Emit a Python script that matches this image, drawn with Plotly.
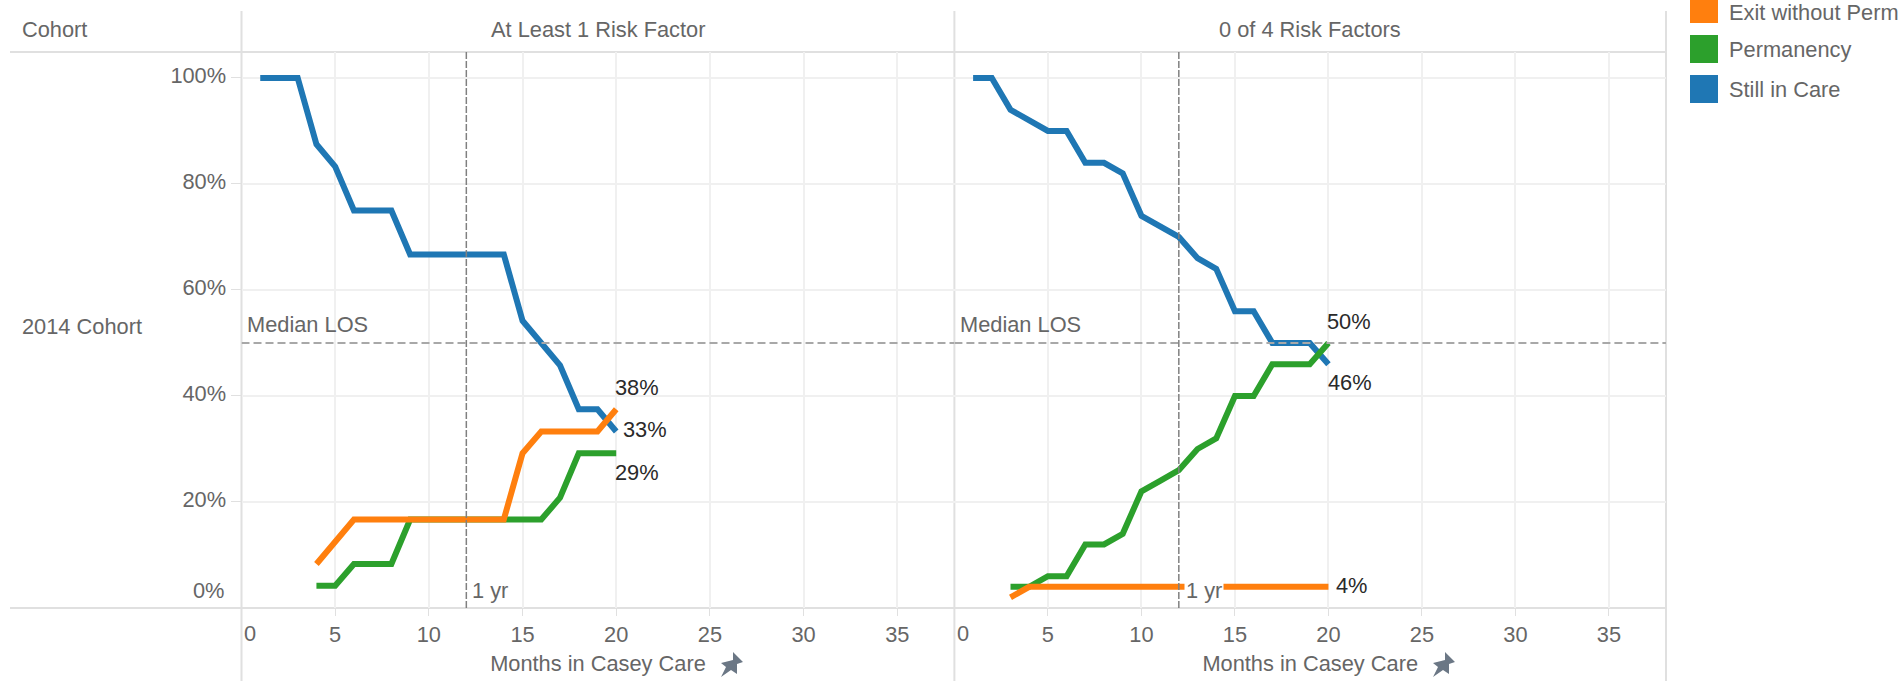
from __future__ import annotations

import plotly.graph_objects as go

W = 1903
H = 681

MONTHS = list(range(1, 21))

# At Least 1 Risk Factor
LEFT_STILL = [100, 100, 100, 87.5, 83.3, 75, 75, 75, 66.7, 66.7, 66.7, 66.7, 66.7, 66.7, 54.2, 50, 45.8, 37.5, 37.5, 33.3]
LEFT_PERM_MONTHS = list(range(4, 21))
LEFT_PERM = [4.2, 4.2, 8.3, 8.3, 8.3, 16.7, 16.7, 16.7, 16.7, 16.7, 16.7, 16.7, 16.7, 20.8, 29.2, 29.2, 29.2]
LEFT_EXIT = [8.3, 12.5, 16.7, 16.7, 16.7, 16.7, 16.7, 16.7, 16.7, 16.7, 16.7, 29.2, 33.3, 33.3, 33.3, 33.3, 37.5]

# 0 of 4 Risk Factors
RIGHT_STILL = [100, 100, 94, 92, 90, 90, 84, 84, 82, 74, 72, 70, 66, 64, 56, 56, 50, 50, 50, 46]
RIGHT_PERM_MONTHS = list(range(3, 21))
RIGHT_PERM = [4, 4, 6, 6, 12, 12, 14, 22, 24, 26, 30, 32, 40, 40, 46, 46, 46, 50]
RIGHT_EXIT = [2, 4, 4, 4, 4, 4, 4, 4, 4, 4, 4, 4, 4, 4, 4, 4, 4, 4]

X_TICKS = [5, 10, 15, 20, 25, 30, 35]
Y_TICKS = [20, 40, 60, 80, 100]
Y_LABELS = ["20%", "40%", "60%", "80%", "100%"]

BLUE = "#1f77b4"
GREEN = "#2ca02c"
ORANGE = "#ff7f0e"
TEXT = "#666666"
BORDER = "#e0e0e0"
GRID = "#f0f0f0"
FONT = "Liberation Sans"
SIZE = 21.8

# pane edges in pixels
PANE_X = [241.5, 954.4, 1666]
PANE_TOP = 52
PANE_BOTTOM = 608


def px(x: float) -> float:
    return x / W


def py(y: float) -> float:
    return 1 - y / H


def add_line(fig, x, y, color, col, name):
    axis = "" if col == 1 else "2"
    fig.add_trace(
        go.Scatter(
            x=x,
            y=y,
            mode="lines",
            name=name,
            xaxis=f"x{axis}",
            yaxis=f"y{axis}",
            line=dict(color=color, width=6),
            hovertemplate="%{x}: %{y}%<extra>" + name + "</extra>",
        )
    )


def text_at(fig, x, y, text, anchor="left", color=TEXT, size=SIZE, **kw):
    fig.add_annotation(
        x=px(x), y=py(y), xref="paper", yref="paper", text=text, showarrow=False,
        xanchor=anchor, yanchor="middle", font=dict(family=FONT, size=size, color=color), **kw,
    )


def add_pin(fig, x, y):
    # push pin, drawn in pixels around its anchor
    fig.add_shape(
        type="path",
        xref="paper", yref="paper", xsizemode="pixel", ysizemode="pixel",
        xanchor=px(x), yanchor=py(y),
        path="M 3 13 L 13 3 L 7 1 L 7 -9 L 1 -5 L -9 -12 L -4 -2 L -9 2 L 3 5 Z",
        fillcolor="#6b7785", line=dict(width=0),
    )


fig = go.Figure()

add_line(fig, MONTHS, LEFT_STILL, BLUE, 1, "Still in Care")
add_line(fig, LEFT_PERM_MONTHS, LEFT_PERM, GREEN, 1, "Permanency")
add_line(fig, LEFT_PERM_MONTHS, LEFT_EXIT, ORANGE, 1, "Exit without Perm")
add_line(fig, MONTHS, RIGHT_STILL, BLUE, 2, "Still in Care")
add_line(fig, RIGHT_PERM_MONTHS, RIGHT_PERM, GREEN, 2, "Permanency")
add_line(fig, RIGHT_PERM_MONTHS, RIGHT_EXIT, ORANGE, 2, "Exit without Perm")

x_style = dict(
    range=[0, 38.05], tickmode="array", tickvals=X_TICKS, ticks="outside", ticklen=7,
    tickcolor=BORDER, tickwidth=1, showgrid=True, gridcolor=GRID, gridwidth=1.5, zeroline=False,
    showline=False, tickfont=dict(family=FONT, size=SIZE, color=TEXT),
    title=dict(text="Months in Casey Care", font=dict(family=FONT, size=SIZE, color=TEXT), standoff=9.5),
)

fig.update_layout(
    width=W,
    height=H,
    margin=dict(l=0, r=0, t=0, b=0),
    paper_bgcolor="white",
    plot_bgcolor="white",
    showlegend=False,
    xaxis=dict(domain=[px(PANE_X[0]), px(PANE_X[1])], anchor="y", **x_style),
    xaxis2=dict(domain=[px(PANE_X[1]), px(PANE_X[2])], anchor="y2", **x_style),
    yaxis=dict(
        domain=[py(PANE_BOTTOM), py(PANE_TOP)], range=[0, 104.9], tickmode="array",
        tickvals=Y_TICKS, ticktext=Y_LABELS, ticks="outside", ticklen=10, tickcolor=BORDER, tickwidth=1,
        showgrid=True, gridcolor=GRID, gridwidth=1.5, zeroline=False, ticklabelshift=-3,
        tickfont=dict(family=FONT, size=SIZE, color=TEXT),
    ),
    yaxis2=dict(
        domain=[py(PANE_BOTTOM), py(PANE_TOP)], range=[0, 104.9], tickmode="array",
        tickvals=Y_TICKS, showticklabels=False, ticks="", anchor="x2",
        showgrid=True, gridcolor=GRID, gridwidth=1.5, zeroline=False,
    ),
)

# table borders
for y in (PANE_TOP, PANE_BOTTOM):
    fig.add_shape(type="line", xref="paper", yref="paper", x0=px(10), x1=px(PANE_X[2]), y0=py(y), y1=py(y),
                  line=dict(color=BORDER, width=2), layer="below")
for x in PANE_X:
    fig.add_shape(type="line", xref="paper", yref="paper", x0=px(x), x1=px(x), y0=py(11), y1=py(H),
                  line=dict(color=BORDER, width=2), layer="below")

# reference lines
for xref, yref in (("x", "y"), ("x2", "y2")):
    fig.add_shape(type="line", xref=xref, yref=yref, x0=0, x1=38.05, y0=50, y1=50,
                  line=dict(color="#a8a8a8", width=2, dash="8px,4px"))
    fig.add_shape(type="line", xref=xref, yref=yref, x0=12, x1=12, y0=0, y1=104.9,
                  line=dict(color="#808080", width=1.5, dash="7px,2px"))

# pane text
text_at(fig, 20, 29, "Cohort")
text_at(fig, 20, 327, "2014 Cohort")
text_at(fig, (PANE_X[0] + PANE_X[1]) / 2, 29, "At Least 1 Risk Factor", anchor="center")
text_at(fig, (PANE_X[1] + PANE_X[2]) / 2, 29, "0 of 4 Risk Factors", anchor="center")
text_at(fig, 245, 325, "Median LOS")
text_at(fig, 958, 325, "Median LOS")

# labels kept inside the pane
text_at(fig, 227, 590, "0%", anchor="right")
text_at(fig, 242, 633, "0")
text_at(fig, 955, 633, "0")

for x, y, s in [
    (470, 590, "1 yr"),
    (1184, 590, "1 yr"),
]:
    text_at(fig, x, y, s, bgcolor="white", borderpad=1)

# end labels
for x, y, s in [
    (613, 387, "38%"), (621, 429, "33%"), (613, 473, "29%"),
    (1325, 321, "50%"), (1326, 382, "46%"), (1334, 585, "4%"),
]:
    text_at(fig, x, y, s, color="#2a2a2a")

add_pin(fig, 730, 665)
add_pin(fig, 1442, 665)

# legend
for y0, y1, color, ty, s in [
    (-6, 23, ORANGE, 12, "Exit without Perm"),
    (35, 63, GREEN, 49, "Permanency"),
    (75, 103, BLUE, 89, "Still in Care"),
]:
    fig.add_shape(type="rect", xref="paper", yref="paper", x0=px(1690), x1=px(1718), y0=py(y0), y1=py(y1),
                  fillcolor=color, line=dict(width=0))
    text_at(fig, 1727, ty, s)

fig.write_html("out.html", config={"displayModeBar": False}, post_script="document.body.style.margin='0';")
